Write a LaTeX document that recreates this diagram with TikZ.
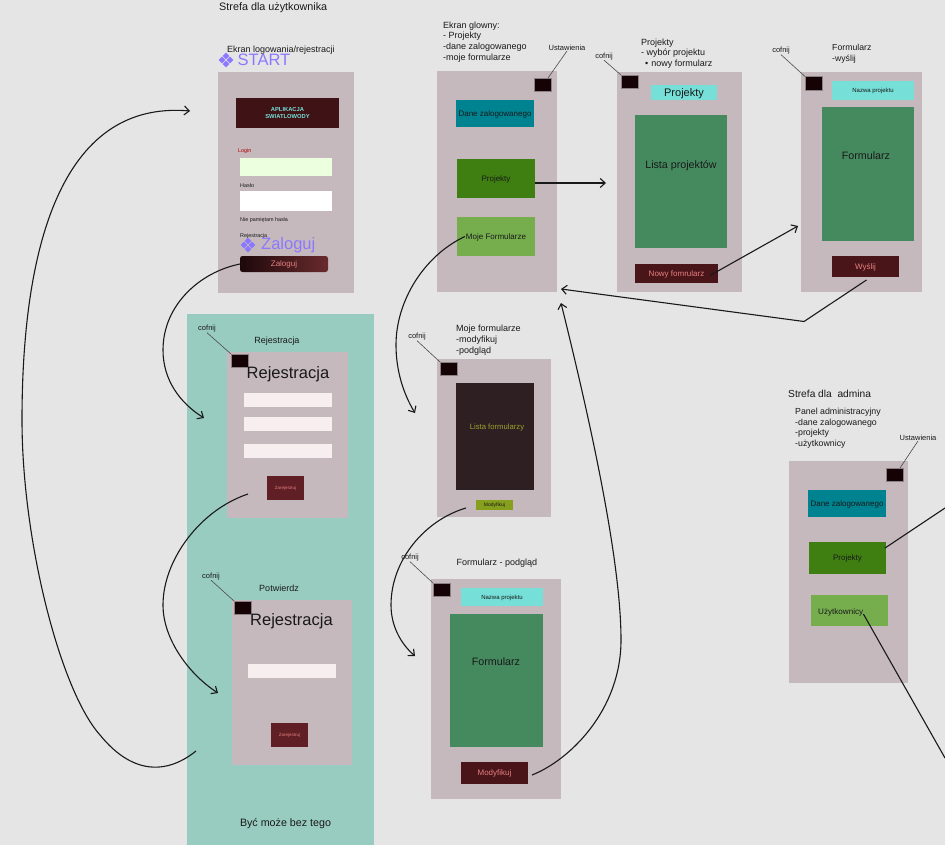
\documentclass[tikz,border=0pt]{standalone}
\usepackage{fontspec}
\setmainfont{Liberation Sans}
\usetikzlibrary{arrows.meta, positioning}

\definecolor{bgGray}{HTML}{E5E5E5}
\definecolor{panelTeal}{HTML}{99CCC1}
\definecolor{screenGray}{HTML}{C5B9BD}
\definecolor{backBlack}{HTML}{150205}
\definecolor{darkRed}{HTML}{4A1519}
\definecolor{regRed}{HTML}{5F1F24}
\definecolor{pinkText}{HTML}{E58080}
\definecolor{cyanBox}{HTML}{76E0D8}
\definecolor{tealBox}{HTML}{008391}
\definecolor{greenBox}{HTML}{3F7F12}
\definecolor{lightGreen}{HTML}{76AE4E}
\definecolor{listGreen}{HTML}{458A5F}
\definecolor{listDark}{HTML}{2E2022}
\definecolor{oliveText}{HTML}{9DA02E}
\definecolor{oliveBox}{HTML}{86A01E}
\definecolor{purpleText}{HTML}{8B78FF}
\definecolor{fieldPink}{HTML}{F7EEF0}

\tikzset{
    sized/.style 2 args={minimum width=#1pt, minimum height=#2pt},
    box/.style={anchor=north west, inner sep=0pt, outer sep=0pt, text depth=0pt},
    screen/.style={box, fill=screenGray},
    field/.style={box, fill=fieldPink},
    backbtn/.style={box, fill=backBlack, draw=screenGray!70!black, line width=0.3pt, minimum width=17pt, minimum height=13.5pt},
    txt/.style={inner sep=0pt, text=black!90, font=\fontsize{#1}{10.7}\selectfont},
    lab/.style={txt=#1, anchor=north west, align=left},
    redbtn/.style={box, fill=darkRed, text=pinkText, font=\fontsize{8}{9}\selectfont},
    colorbtn/.style={box, text=black!90, font=\fontsize{8}{9}\selectfont},
    hint/.style={gray!60!black, line width=0.6pt},
    flow/.style={-{Straight Barb[length=5pt,width=9pt]}, line width=1.1pt, black!90},
    plain/.style={line width=1.1pt, black!90},
    compicon/.pic={
        \foreach \dx/\dy in {-4/0, 4/0, 0/-4, 0/4}
            \fill[purpleText, shift={(\dx,\dy)}] (-3.4,0) -- (0,-3.4) -- (3.4,0) -- (0,3.4) -- cycle;
    }
}

\begin{document}
\begin{tikzpicture}[x=1pt, y=-1pt]
    \fill[bgGray] (0,0) rectangle (945,845);
    \useasboundingbox (0,0) rectangle (945,845);

    % strefa rejestracji
    \node[box, fill=panelTeal, sized={187}{531}] (panel) at (187,314) {};
    \node[txt=10.7] (bezTego) at (285.5,823.5) {Być może bez tego};

    % ekran logowania
    \node[lab=10.8] (userZone) at (219,2.5) {Strefa dla użytkownika};
    \node[lab=9] (loginTitle) at (227,45.5) {Ekran logowania/rejestracji};
    \node[screen, sized={136}{221}] (loginScreen) at (218,72) {};
    \node[box, fill=darkRed!85!black, sized={103}{30}, text=cyanBox, align=center, font=\fontsize{5.8}{7.5}\selectfont\bfseries] (logo) at (236,98) {APLIKACJA\\SWIATLOWODY};
    \node[txt=5.4, text=red!70!black, anchor=west] (loginLab) at (238,151.5) {Login};
    \node[box, fill=green!8!white!95!yellow, sized={92}{17.5}] (loginField) at (240,158.5) {};
    \node[txt=5.4, anchor=west] (hasloLab) at (240,186) {Hasło};
    \node[box, fill=white, sized={92}{20}] (hasloField) at (240,191) {};
    \node[txt=5.4, anchor=west] (forgotLab) at (240,220) {Nie pamiętam hasła};
    \node[txt=5.4, anchor=west] (regLab) at (240,236) {Rejestracja};
    \node[box, rounded corners=2.5pt, left color=black!60!darkRed, right color=darkRed!80!pinkText, text=pinkText, sized={88}{16}, font=\fontsize{8}{9}\selectfont] (zaloguj) at (240,256) {Zaloguj};
    \pic at (226,60) {compicon};
    \node[txt=16.5, text=purpleText, anchor=west] (startLab) at (237.5,60) {START};
    \pic at (248,245) {compicon};
    \node[txt=16.5, text=purpleText, anchor=west] (zalogujLab) at (261,245) {Zaloguj};

    % ekran glowny
    \node[lab=9] (mainLab) at (443,21.5) {Ekran glowny:\\- Projekty\\-dane zalogowanego\\-moje formularze};
    \node[txt=7.5] (ustawLab) at (567,48) {Ustawienia};
    \node[screen, sized={120}{221}] (mainScreen) at (437,71) {};
    \node[backbtn] (mainBack) at (534,78) {};
    \node[colorbtn, fill=tealBox, sized={78}{27}] (mainDane) at (456,100) {Dane zalogowanego};
    \node[colorbtn, fill=greenBox, sized={78}{39}] (mainProj) at (457,159) {Projekty};
    \node[colorbtn, fill=lightGreen, sized={78}{39}] (mainForms) at (457,217) {Moje Formularze};

    % projekty
    \node[lab=9] (projLab) at (641,38.5) {Projekty\\- wybór projektu\\\hspace*{4pt}•\hspace*{3pt}nowy formularz};
    \node[txt=7.5] (projCof) at (604,56.5) {cofnij};
    \node[screen, sized={125}{220}] (projScreen) at (617,72) {};
    \node[backbtn] (projBack) at (621,75) {};
    \node[box, fill=cyanBox, sized={66}{15}, font=\fontsize{11}{12}\selectfont, text=black!90] (projHead) at (651,85) {Projekty};
    \node[box, fill=listGreen, sized={92}{133}] (projList) at (635,115) {};
    \node[txt=10.7] (projListLab) at (681,165.5) {Lista projektów};
    \node[redbtn, sized={83}{19}] (projNowy) at (635,264) {Nowy fomrularz};

    % formularz
    \node[lab=8.7] (formLab) at (832,44) {Formularz\\-wyślij};
    \node[txt=7.5] (formCof) at (781,51) {cofnij};
    \node[screen, sized={121}{220}] (formScreen) at (801,72) {};
    \node[backbtn] (formBack) at (805,76.5) {};
    \node[box, fill=cyanBox, sized={82}{19}, font=\fontsize{6}{7}\selectfont, text=black!90] (formHead) at (832,81) {Nazwa projektu};
    \node[box, fill=listGreen, sized={92}{134}] (formList) at (822,107) {};
    \node[txt=10.7] (formListLab) at (866,155.5) {Formularz};
    \node[redbtn, sized={67}{21}] (formSend) at (832,256) {Wyślij};

    % rejestracja
    \node[txt=7.5] (regCof) at (207,329) {cofnij};
    \node[txt=9] (regTitle) at (277,341) {Rejestracja};
    \node[screen, sized={121}{166}] (regScreen) at (227,352) {};
    \node[backbtn] (regBack) at (231,354) {};
    \node[txt=16.5] (regHead) at (288,374) {Rejestracja};
    \node[field, sized={88}{14}] (regF1) at (244,393) {};
    \node[field, sized={88}{14}] (regF2) at (244,417) {};
    \node[field, sized={88}{14}] (regF3) at (244,444) {};
    \node[box, fill=regRed, text=pinkText, sized={37}{24}, font=\fontsize{4.5}{5}\selectfont] (regBtn) at (267,476) {Zarejestruj};

    % potwierdz
    \node[txt=7.5] (potwCof) at (211,576.5) {cofnij};
    \node[txt=9] (potwTitle) at (279,588) {Potwierdz};
    \node[screen, sized={120}{165}] (potwScreen) at (232,600) {};
    \node[backbtn] (potwBack) at (234,601) {};
    \node[txt=16.5] (potwHead) at (291.5,621.5) {Rejestracja};
    \node[field, sized={88}{14}] (potwF1) at (248,664) {};
    \node[box, fill=regRed, text=pinkText, sized={37}{24}, font=\fontsize{4.5}{5}\selectfont] (potwBtn) at (271,723) {Zarejestruj};

    % moje formularze
    \node[lab=9] (mojeLab) at (456,325) {Moje formularze\\-modyfikuj\\-podgląd};
    \node[txt=7.5] (mojeCof) at (417,337) {cofnij};
    \node[screen, sized={114}{158}] (mojeScreen) at (437,359) {};
    \node[backbtn] (mojeBack) at (440,362) {};
    \node[box, fill=listDark, sized={78}{107}] (mojeList) at (456,383) {};
    \node[txt=7.7, text=oliveText] (mojeListLab) at (497,428) {Lista formularzy};
    \node[box, fill=oliveBox, sized={37}{10}, font=\fontsize{5}{6}\selectfont, text=black!90] (mojeBtn) at (476,500) {Modyfikuj};

    % podglad
    \node[txt=9] (podgLab) at (497,563) {Formularz - podgląd};
    \node[txt=7.5] (podgCof) at (410,558) {cofnij};
    \node[screen, sized={130}{220}] (podgScreen) at (431,579) {};
    \node[backbtn] (podgBack) at (433,583) {};
    \node[box, fill=cyanBox, sized={82}{18}, font=\fontsize{6}{7}\selectfont, text=black!90] (podgHead) at (461,588) {Nazwa projektu};
    \node[box, fill=listGreen, sized={93}{133}] (podgList) at (450,614) {};
    \node[txt=10.7] (podgListLab) at (496,662) {Formularz};
    \node[redbtn, sized={67}{22}] (podgBtn) at (461,762) {Modyfikuj};

    % admin
    \node[lab=10.2] (adminZone) at (788,390) {Strefa dla\ \ admina};
    \node[lab=8.8] (adminLab) at (795,408) {Panel administracyjny\\-dane zalogowanego\\-projekty\\-użytkownicy};
    \node[txt=7.5] (adminUst) at (918,438) {Ustawienia};
    \node[screen, sized={119}{222}] (adminScreen) at (789,461) {};
    \node[backbtn] (adminBack) at (886,468) {};
    \node[colorbtn, fill=tealBox, sized={78}{27}] (adminDane) at (808,490) {Dane zalogowanego};
    \node[colorbtn, fill=greenBox, sized={77}{32}] (adminProj) at (809,542) {Projekty};
    \node[box, fill=lightGreen, sized={77}{31}] (adminUsers) at (810.5,595) {};
    \node[txt=8.1, anchor=west] (adminUsersLab) at (818,612) {Użytkownicy};

    % linie do przyciskow cofnij
    \draw[hint] (ustawLab.south) -- ([xshift=-3pt]mainBack.north east);
    \draw[hint] (projCof.south) -- (projBack.north west);
    \draw[hint] (formCof.south) -- (formBack.north west);
    \draw[hint] (regCof.south) -- (regBack.north west);
    \draw[hint] (potwCof.south) -- (potwBack.north west);
    \draw[hint] (mojeCof.south) -- (mojeBack.north west);
    \draw[hint] (podgCof.south) -- (podgBack.north west);
    \draw[hint] (adminUst.south) -- ([xshift=-3pt]adminBack.north east);

    % koncowki strzalek
    \coordinate (startIn) at (190,111);
    \coordinate (panelOut) at (196,751);
    \coordinate (regIn) at (204,418);
    \coordinate (regOut) at (248,494);
    \coordinate (potwIn) at (218,693);
    \coordinate (projIn) at (606,183);
    \coordinate (mojeIn) at (415,413);
    \coordinate (podgIn) at (415,656);
    \coordinate (formIn) at (798,226);
    \coordinate (bend) at (804,321.5);
    \coordinate (mainIn) at (561,289);
    \coordinate (mainIn2) at (561,303);
    \coordinate (adminOut) at (945,508);
    \coordinate (adminOut2) at (945,758);

    % strzalki
    \draw[flow] (panelOut) .. controls (170,772) and (135,778) .. (100,735) .. controls (60,690) and (22,540) .. (22,420) .. controls (22,250) and (60,100) .. (startIn);
    \draw[flow] (zaloguj.west) .. controls (200,272) and (163,305) .. (163,350) .. controls (163,380) and (180,403) .. (regIn);
    \draw[flow] (regOut) .. controls (200,510) and (163,560) .. (163,605) .. controls (163,640) and (190,675) .. (potwIn);
    \draw[flow] ([yshift=-4.5pt]mainProj.east) -- (projIn);
    \draw[flow] ([xshift=8pt]mainForms.west) .. controls (425,255) and (396,300) .. (396,345) .. controls (396,370) and (403,393) .. (mojeIn);
    \draw[flow] ([xshift=-10pt,yshift=2pt]mojeBtn.south west) .. controls (425,520) and (391,560) .. (391,605) .. controls (391,625) and (400,643) .. (podgIn);
    \draw[flow] ([xshift=4pt,yshift=-2pt]podgBtn.east) .. controls (570,760) and (621,710) .. (621,640) .. controls (621,560) and (590,420) .. (mainIn2);
    \draw[flow] ([xshift=-8pt,yshift=-2pt]projNowy.east) -- (formIn);
    \draw[flow] ([xshift=1pt,yshift=-3pt]formSend.south) -- (bend) -- (mainIn);
    \draw[plain] ([xshift=-1pt,yshift=10pt]adminProj.east) -- (adminOut);
    \draw[plain] ([yshift=-2pt]adminUsersLab.east) -- (adminOut2);
\end{tikzpicture}
\end{document}
